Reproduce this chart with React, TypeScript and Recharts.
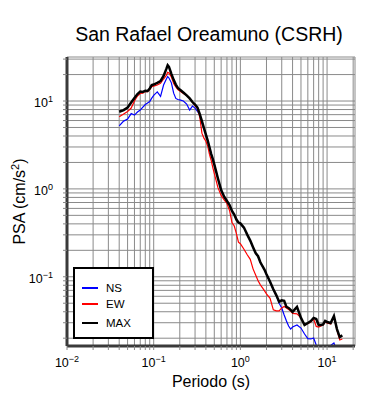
import { CartesianGrid, Line, LineChart, XAxis, YAxis } from "recharts";

const FONT = '"Liberation Sans", Arial, Helvetica, sans-serif';

// periodos (s)
const periods = [
  0.04, 0.045, 0.05, 0.055, 0.06, 0.065, 0.07, 0.075, 0.08, 0.085, 0.09, 0.095,
  0.1, 0.11, 0.12, 0.13, 0.14, 0.145, 0.15, 0.16, 0.17, 0.18, 0.19,
  0.2, 0.22, 0.24, 0.26, 0.28, 0.3, 0.32, 0.34, 0.36, 0.38,
  0.4, 0.42, 0.44, 0.46, 0.48, 0.5,
  0.55, 0.6, 0.65, 0.7, 0.75, 0.8, 0.85, 0.9, 0.95,
  1, 1.1, 1.2, 1.3, 1.4, 1.5, 1.6, 1.7, 1.8, 1.9,
  2, 2.2, 2.4, 2.6, 2.8,
  3, 3.2, 3.4, 3.6, 3.8,
  4, 4.5, 5, 5.5, 6, 6.5, 7, 7.5, 8, 8.5, 9, 9.5,
  10, 11, 12, 13, 14, 15,
];

// PSA (cm/s2)
const ns = [
  5.22, 5.91, 6.23, 7.2, 6.92, 7.49, 7.89, 8.54, 9.12, 9.49, 9.87, 10.8,
  11.6, 12.7, 11.3, 15.2, 17.8, 19.0, 18.3, 16.1, 12.3, 10.7, 10.4,
  10.3, 10.0, 9.24, 7.89, 8.77, 8.32, 7.6, 7.0, 5.61, 4.91,
  4.14, 3.54, 2.98, 2.51, 2.2, 1.9,
  1.32, 0.969, 0.814, 0.729, 0.656, 0.561, 0.511, 0.448, 0.414,
  0.4, 0.36, 0.3, 0.256, 0.215, 0.185, 0.17, 0.145, 0.131, 0.12,
  0.106, 0.087, 0.0715, 0.061, 0.05,
  0.0442, 0.0368, 0.0314, 0.0275, 0.0254,
  0.0268, 0.0283, 0.0261, 0.0223, 0.0198, 0.0196, 0.0201, 0.0167, 0.0143, 0.014, 0.014, 0.0145,
  0.0154, 0.0165, 0.0176, 0.0143, 0.0135, 0.0143,
];

const ew = [
  6.61, 7.1, 7.59, 8.32, 10.0, 11.4, 12.2, 12.3, 12.9, 12.8, 13.5, 14.6,
  14.8, 15.2, 15.9, 17.8, 19.6, 21.2, 20.9, 18.8, 15.8, 14.5, 13.5,
  13.0, 12.2, 11.6, 10.7, 9.74, 8.88, 8.21, 6.56, 4.31, 3.78,
  3.49, 3.06, 2.48, 2.12, 1.76, 1.5,
  1.04, 0.843, 0.749, 0.683, 0.568, 0.414, 0.378, 0.31, 0.248,
  0.238, 0.206, 0.178, 0.158, 0.123, 0.105, 0.09, 0.081, 0.0749, 0.0692,
  0.0639, 0.0568, 0.042, 0.0409, 0.0409,
  0.0442, 0.046, 0.0442, 0.0425, 0.0409,
  0.0383, 0.0378, 0.034, 0.0283, 0.0294, 0.0306, 0.0331, 0.0272, 0.0268, 0.0275, 0.0283, 0.0306,
  0.0298, 0.029, 0.0349, 0.0248, 0.0191, 0.0196,
];

const maxPsa = [
  7.55, 7.89, 8.43, 9.61, 10.8, 12.0, 12.8, 12.7, 13.1, 13.0, 13.9, 15.2,
  15.4, 16.1, 16.9, 19.3, 23.2, 25.5, 24.5, 20.4, 17.4, 15.4, 14.1,
  13.5, 12.5, 11.6, 10.7, 9.74, 9.12, 8.43, 7.1, 5.91, 4.91,
  4.14, 3.54, 2.98, 2.51, 2.2, 1.9,
  1.32, 0.969, 0.814, 0.729, 0.656, 0.561, 0.511, 0.448, 0.414,
  0.405, 0.363, 0.302, 0.258, 0.217, 0.186, 0.1715, 0.1464, 0.1318, 0.1202,
  0.1068, 0.0877, 0.072, 0.0615, 0.052,
  0.0539, 0.0532, 0.0454, 0.0442, 0.042,
  0.0398, 0.0454, 0.034, 0.0283, 0.0298, 0.0314, 0.034, 0.0331, 0.0283, 0.0283, 0.0287, 0.0314,
  0.0306, 0.0298, 0.0358, 0.0254, 0.0206, 0.0215,
];

const xTicks = [
  0.01, 0.02, 0.03, 0.04, 0.05, 0.06, 0.07, 0.08, 0.09,
  0.1, 0.2, 0.3, 0.4, 0.5, 0.6, 0.7, 0.8, 0.9,
  1, 2, 3, 4, 5, 6, 7, 8, 9, 10, 20,
];
const yTicks = [
  0.02, 0.03, 0.04, 0.05, 0.06, 0.07, 0.08, 0.09,
  0.1, 0.2, 0.3, 0.4, 0.5, 0.6, 0.7, 0.8, 0.9,
  1, 2, 3, 4, 5, 6, 7, 8, 9, 10, 20, 30,
];

const series = [
  { key: "ns", name: "NS", color: "#0000ff", width: 1.2 },
  { key: "ew", name: "EW", color: "#ff0000", width: 1.2 },
  { key: "max", name: "MAX", color: "#000000", width: 2.5 },
];

const rows = periods.map((p, i) => ({ p, ns: ns[i], ew: ew[i], max: maxPsa[i] }));

function expOf(v: number) {
  const l = Math.log10(v);
  const r = Math.round(l);
  return Math.abs(l - r) < 1e-6 ? r : null;
}

function Pow({ x, y, e, anchor }: { x: number; y: number; e: number; anchor: string }) {
  return (
    <text x={x} y={y} textAnchor={anchor} fontFamily={FONT} fontSize={12.5} fill="#000">
      10
      <tspan dy={-5} fontSize={9}>
        {e < 0 ? "\u2212" + -e : String(e)}
      </tspan>
    </text>
  );
}

function XTick(props: any) {
  const e = expOf(props.payload.value);
  if (e === null) return null;
  return <Pow x={props.x} y={props.y + 17} e={e} anchor="middle" />;
}

function YTick(props: any) {
  const e = expOf(props.payload.value);
  if (e === null) return null;
  return <Pow x={props.x - 10} y={props.y + 6} e={e} anchor="end" />;
}

const frame = { stroke: "#3a3a3a", strokeWidth: 3 };
const tickLn = { stroke: "#888", strokeWidth: 1 };

export default function App() {
  return (
    <div style={{ position: "absolute", left: 0, top: 0, width: 390, height: 400, background: "#fff" }}>
      <LineChart width={390} height={400} data={rows} margin={{ top: 57, right: 35, bottom: 20, left: 0 }}>
        <CartesianGrid xAxisId="b" yAxisId="l" stroke="#8a8a8a" strokeWidth={1} />
        <XAxis
          xAxisId="b"
          dataKey="p"
          type="number"
          scale="log"
          domain={[0.01, 21]}
          allowDataOverflow
          ticks={xTicks}
          interval={0}
          height={34}
          tickSize={4}
          tickMargin={0}
          axisLine={frame}
          tickLine={tickLn}
          tick={<XTick />}
        />
        <XAxis
          xAxisId="t"
          orientation="top"
          dataKey="p"
          type="number"
          scale="log"
          domain={[0.01, 21]}
          allowDataOverflow
          ticks={xTicks}
          interval={0}
          height={0}
          tickSize={4}
          axisLine={frame}
          tickLine={tickLn}
          tick={false}
        />
        <YAxis
          yAxisId="l"
          type="number"
          scale="log"
          domain={[0.0163, 31.7]}
          allowDataOverflow
          ticks={yTicks}
          interval={0}
          width={67}
          tickSize={4}
          tickMargin={0}
          axisLine={frame}
          tickLine={tickLn}
          tick={<YTick />}
        />
        <YAxis
          yAxisId="r"
          orientation="right"
          type="number"
          scale="log"
          domain={[0.0163, 31.7]}
          allowDataOverflow
          ticks={yTicks}
          interval={0}
          width={0}
          tickSize={4}
          axisLine={frame}
          tickLine={tickLn}
          tick={false}
        />
        {series.map((s) => (
          <Line
            key={s.key}
            xAxisId="b"
            yAxisId="l"
            dataKey={s.key}
            name={s.name}
            stroke={s.color}
            strokeWidth={s.width}
            dot={false}
            activeDot={false}
            isAnimationActive={false}
          />
        ))}
      </LineChart>
      <svg
        width={390}
        height={400}
        style={{ position: "absolute", left: 0, top: 0, pointerEvents: "none" }}
        fontFamily={FONT}
      >
        <text x={209} y={41} textAnchor="middle" fontSize={19.5} fill="#000">
          San Rafael Oreamuno (CSRH)
        </text>
        <text x={211} y={387} textAnchor="middle" fontSize={16} fill="#000">
          Periodo (s)
        </text>
        <text
          transform="translate(24.5,201.5) rotate(-90)"
          textAnchor="middle"
          fontSize={16}
          fill="#000"
        >
          PSA (cm/s
          <tspan dy={-6} fontSize={11}>2</tspan>
          <tspan dy={6}>)</tspan>
        </text>
        <rect x={74} y={268} width={79} height={70} fill="#fff" stroke="#000" strokeWidth={2} />
        {series.map((s, i) => {
          const yy = [288, 304, 323][i];
          return (
            <g key={s.key}>
              <line x1={82} x2={98} y1={yy} y2={yy} stroke={s.color} strokeWidth={2} />
              <text x={106} y={yy + 4} fontSize={11.5} fill="#000">
                {s.name}
              </text>
            </g>
          );
        })}
      </svg>
    </div>
  );
}
